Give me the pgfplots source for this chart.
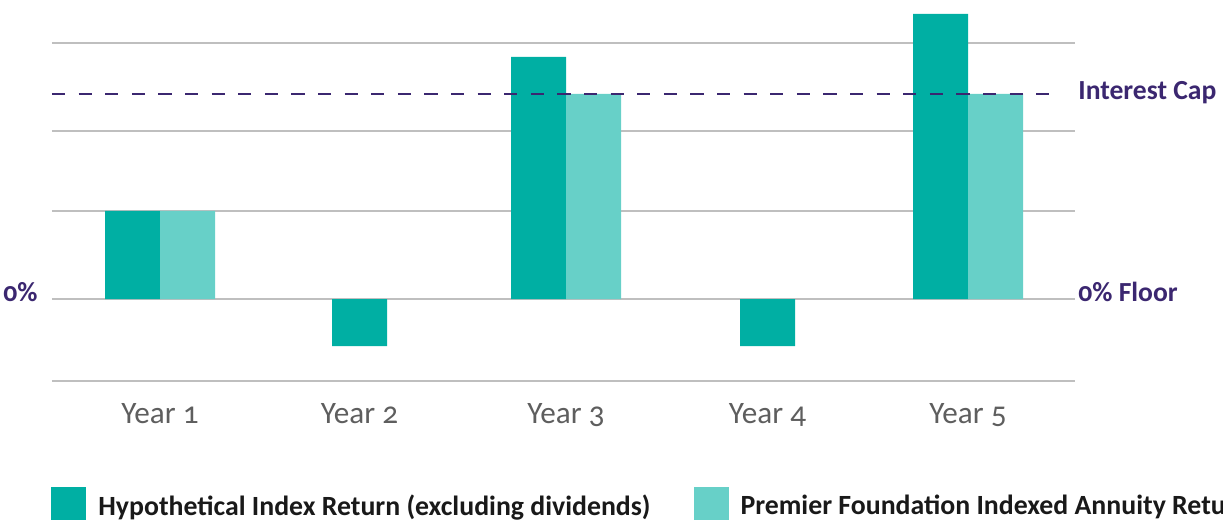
\documentclass[border=0pt]{standalone}
\usepackage{fontspec}
\setmainfont{Carlito}[Numbers=OldStyle]
\usepackage{pgfplots}
\pgfplotsset{compat=1.18}
\definecolor{idx}{HTML}{00AFA3}
\definecolor{ann}{HTML}{67D0C8}
\definecolor{purp}{HTML}{3B2770}
\definecolor{gridg}{HTML}{BFBFBF}
\definecolor{tickg}{HTML}{5E5E5E}
\begin{document}
\begin{tikzpicture}
\path[use as bounding box] (-26pt,-69.5pt) rectangle (585.5pt,190.5pt);
\begin{axis}[
  name=ax,
  scale only axis,
  width=511.5pt, height=190.5pt,
  xmin=0, xmax=1023, ymin=-82, ymax=299,
  clip=false,
  axis line style={draw=none},
  tick style={draw=none},
  ytick={-82,0,88,168,256},
  yticklabels={},
  ymajorgrids,
  grid style={line width=1pt, color=gridg},
  xtick={108,307.5,514,715.5,916},
  xticklabels={Year 1,Year 2,Year 3,Year 4,Year 5},
  xticklabel style={font=\fontsize{15.6}{18}\selectfont, text=tickg, inner sep=0pt, anchor=north, yshift=-11pt},
  legend style={at={(rel axis cs:0,0)}, anchor=north west, xshift=-0.5pt, yshift=-53pt, draw=none, fill=none,
    inner sep=0pt, font=\bfseries\fontsize{13.9}{16}\selectfont, text=black!90,
    legend columns=2,
    /tikz/every odd column/.append style={column sep=6pt},
    /tikz/every even column/.append style={column sep=21.5pt},
    nodes={inner sep=0pt}},
  legend cell align=left,
  legend image code/.code={\fill[#1,draw=none] (0pt,-8pt) rectangle (17.5pt,9.5pt);},
]
% Index bars (years 1, 3, 5: left of the pair)
\addplot[ybar, bar width=55, bar shift=-27.5, fill=idx, draw=none]
  coordinates {(108,88) (514,242) (916,285)};
\addlegendentry{Hypothetical Index Return (excluding dividends)}
% Annuity bars
\addplot[ybar, bar width=55, bar shift=27.5, fill=ann, draw=none]
  coordinates {(108,88) (514,205) (916,205)};
\addlegendentry{Premier Foundation Indexed Annuity Return}
% Index bars (years 2, 4: centred, negative)
\addplot[ybar, bar width=55, bar shift=0, fill=idx, draw=none, forget plot]
  coordinates {(307.5,-47) (715.5,-47)};
% Interest cap
\addplot[purp, line width=1.1pt, dash pattern=on 6.6pt off 6.7pt, forget plot]
  coordinates {(0,205) (998,205)};
\node[anchor=base west, inner sep=0pt, text=purp, font=\bfseries\fontsize{13.8}{16}\selectfont, xshift=1.5pt, yshift=-3pt] at (axis cs:1023,205) {Interest Cap};
\node[anchor=base west, inner sep=0pt, text=purp, font=\bfseries\fontsize{13.8}{16}\selectfont, xshift=1.5pt, yshift=-1pt] at (axis cs:1023,0) {0\% Floor};
\node[anchor=base east, inner sep=0pt, text=purp, font=\bfseries\fontsize{13.8}{16}\selectfont, xshift=-7pt, yshift=-1pt] at (axis cs:0,0) {0\%};
\end{axis}
\end{tikzpicture}
\end{document}
